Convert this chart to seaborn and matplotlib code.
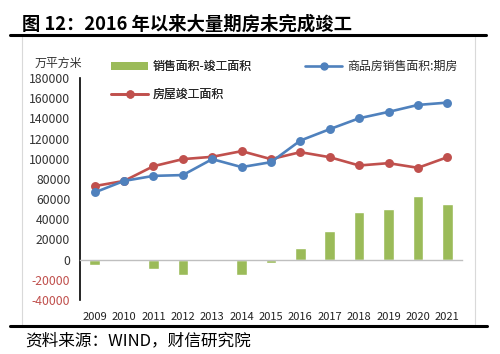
import numpy as np
import pandas as pd
import matplotlib
matplotlib.use("Agg")
import matplotlib.pyplot as plt
from matplotlib.lines import Line2D
from matplotlib.patches import Patch, Rectangle
import seaborn as sns

years = ["2009", "2010", "2011", "2012", "2013", "2014", "2015",
         "2016", "2017", "2018", "2019", "2020", "2021"]
presale_sales = [66600, 78000, 83000, 83800, 99600, 91700, 96600,
                 118000, 129300, 140100, 146400, 153300, 155600]
completion = [72900, 78000, 92600, 99600, 101900, 107500, 99600,
              106500, 101500, 93300, 95600, 91000, 101500]
gap = [-5600, 0, -9200, -15000, -1000, -15500, -3000,
       11900, 28000, 47100, 50400, 62600, 55100]
yticks = [-40000, -20000, 0, 20000, 40000, 60000, 80000, 100000,
          120000, 140000, 160000, 180000]

title = "图 12：2016 年以来大量期房未完成竣工"
unit = "万平方米"
lab_gap = "销售面积-竣工面积"
lab_blue = "商品房销售面积:期房"
lab_red = "房屋竣工面积"
source = "资料来源：WIND，财信研究院"

GREEN = "#9BBB59"
BLUE = "#4F81BD"
RED = "#C0504D"

sns.set_style("white")
plt.rcParams['font.family'] = ['Noto Sans CJK SC', 'DejaVu Sans']

df = pd.DataFrame({"year": years, "blue": presale_sales,
                   "red": completion, "gap": gap})

fig = plt.figure(figsize=(5.0, 3.54), dpi=100)
ax = fig.add_axes([0.16, 0.1525, 0.764, 0.6272])

sns.barplot(data=df, x="year", y="gap", color=GREEN, width=0.36,
            saturation=1, ax=ax, zorder=2)
sns.pointplot(data=df, x="year", y="red", color=RED, markers="o",
              markersize=5, linewidth=1.9, ax=ax, zorder=3)
sns.pointplot(data=df, x="year", y="blue", color=BLUE, markers="o",
              markersize=5, linewidth=1.9, ax=ax, zorder=4)

ax.set_ylim(-40000, 180000)
ax.set_xlim(-0.5, len(years) - 0.5)
ax.set_yticks(yticks)
ax.set_yticklabels([str(v) for v in yticks], fontsize=8.8)
for t, v in zip(ax.get_yticklabels(), yticks):
    t.set_color(RED if v < 0 else "#333333")
ax.tick_params(axis="y", direction="out", length=4, width=1, color="black", pad=3)
ax.set_xlabel("")
ax.set_ylabel("")

# x axis at zero with category boundary ticks, labels at bottom
ax.spines["bottom"].set_position(("data", 0))
ax.spines["bottom"].set_color("#BFBFBF")
ax.spines["bottom"].set_linewidth(1)
ax.spines["top"].set_visible(False)
ax.spines["right"].set_visible(False)
ax.spines["left"].set_color("black")
ax.spines["left"].set_linewidth(1.2)
ax.set_xticks(np.arange(len(years)))
ax.set_xticklabels(years, fontsize=8, color="#222222")
ax.set_xticks(np.arange(len(years) + 1) - 0.5, minor=True)
ax.tick_params(axis="x", which="major", length=0, pad=38)
ax.tick_params(axis="x", which="minor", direction="out", length=3,
               color="#BFBFBF", width=1)
ax.grid(False)

# legends
h_gap = Patch(facecolor=GREEN, edgecolor="none")
h_red = Line2D([], [], color=RED, marker="o", markersize=5, linewidth=1.9)
h_blue = Line2D([], [], color=BLUE, marker="o", markersize=5, linewidth=1.9)
leg1 = fig.legend([h_gap, h_red], [lab_gap, lab_red], loc="upper left",
                  bbox_to_anchor=(0.222, 0.83), frameon=False, fontsize=8.6,
                  handlelength=3.1, labelspacing=1.25, handletextpad=0.4,
                  borderaxespad=0, borderpad=0)
fig.add_artist(leg1)
fig.legend([h_blue], [lab_blue], loc="upper left",
           bbox_to_anchor=(0.61, 0.83), frameon=False, fontsize=8.6,
           handlelength=3.1, handletextpad=0.4, borderaxespad=0, borderpad=0)

fig.text(0.07, 0.822, unit, fontsize=8.6, color="#333333", va="center")

# frame, title and source
fig.add_artist(Rectangle((0.044, 0.082), 0.906, 0.815, transform=fig.transFigure,
                         fill=False, edgecolor="#D9D9D9", linewidth=0.8))
fig.add_artist(Line2D([0.02, 0.972], [0.9, 0.9], transform=fig.transFigure,
                      color="black", linewidth=2.2))
fig.add_artist(Line2D([0.02, 0.974], [0.08, 0.08], transform=fig.transFigure,
                      color="black", linewidth=2.2))
fig.text(0.044, 0.932, title, fontsize=13.2, fontweight="bold", va="center",
         color="black")
fig.text(0.05, 0.038, source, fontsize=12, style="italic", va="center",
         color="black")

fig.savefig("out.png", dpi=100)
